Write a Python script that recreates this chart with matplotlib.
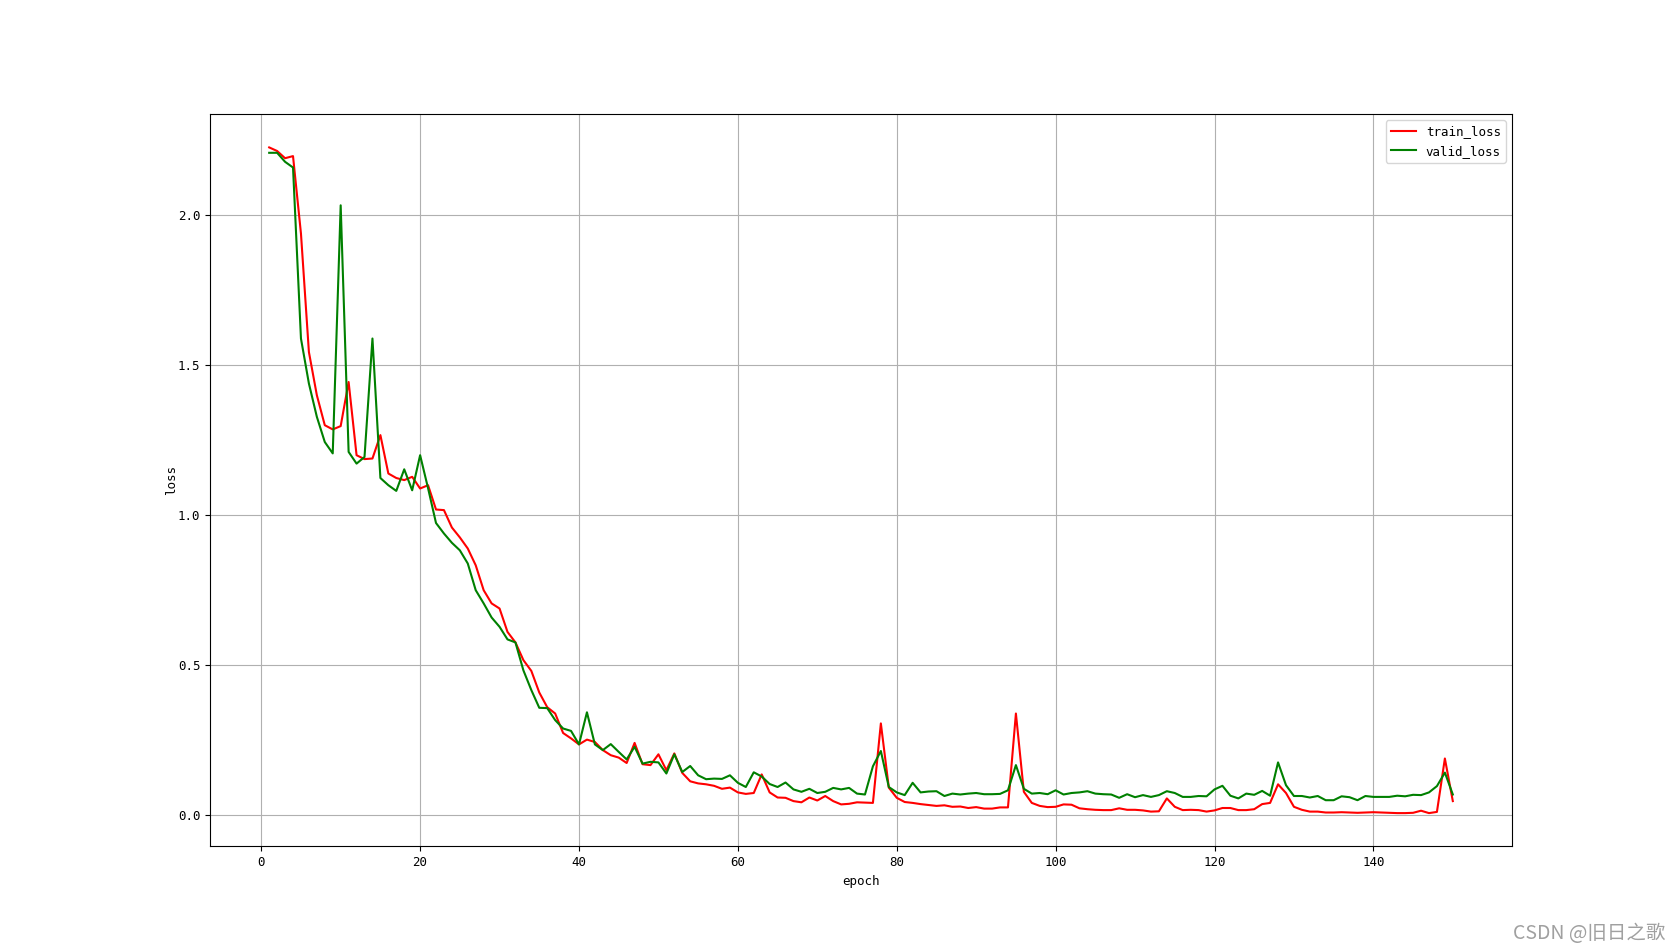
import matplotlib
matplotlib.use("Agg")
import matplotlib.pyplot as plt

epochs = list(range(1, 151))

train_loss = [
    2.226, 2.214, 2.19, 2.197, 1.939, 1.544, 1.40, 1.30, 1.286, 1.297,
    1.444, 1.20, 1.187, 1.189, 1.267, 1.139, 1.124, 1.117, 1.128, 1.089,
    1.10, 1.019, 1.017, 0.959, 0.926, 0.889, 0.833, 0.75, 0.706, 0.689,
    0.611, 0.576, 0.517, 0.481, 0.409, 0.36, 0.339, 0.274, 0.256, 0.236,
    0.252, 0.244, 0.217, 0.20, 0.192, 0.174, 0.241, 0.17, 0.167, 0.203,
    0.15, 0.206, 0.141, 0.113, 0.106, 0.103, 0.098, 0.088, 0.092, 0.076,
    0.071, 0.074, 0.136, 0.076, 0.059, 0.058, 0.047, 0.043, 0.059, 0.049,
    0.064, 0.047, 0.036, 0.038, 0.043, 0.042, 0.041, 0.306, 0.092, 0.058,
    0.044, 0.041, 0.037, 0.034, 0.031, 0.033, 0.028, 0.029, 0.024, 0.027,
    0.022, 0.022, 0.026, 0.026, 0.339, 0.078, 0.041, 0.031, 0.027, 0.028,
    0.036, 0.035, 0.023, 0.02, 0.018, 0.017, 0.017, 0.023, 0.018, 0.018,
    0.016, 0.012, 0.013, 0.056, 0.028, 0.017, 0.018, 0.017, 0.012, 0.016,
    0.024, 0.024, 0.017, 0.017, 0.02, 0.037, 0.041, 0.103, 0.074, 0.028,
    0.018, 0.012, 0.012, 0.009, 0.009, 0.01, 0.009, 0.008, 0.009, 0.01,
    0.009, 0.008, 0.007, 0.007, 0.008, 0.015, 0.007, 0.011, 0.189, 0.047,
]

valid_loss = [
    2.208, 2.208, 2.178, 2.159, 1.589, 1.439, 1.328, 1.244, 1.206, 2.033,
    1.211, 1.172, 1.194, 1.589, 1.124, 1.10, 1.081, 1.153, 1.083, 1.20,
    1.09, 0.974, 0.939, 0.908, 0.883, 0.839, 0.75, 0.706, 0.659, 0.628,
    0.586, 0.576, 0.483, 0.417, 0.358, 0.357, 0.317, 0.289, 0.281, 0.236,
    0.343, 0.236, 0.217, 0.237, 0.211, 0.186, 0.228, 0.172, 0.178, 0.176,
    0.139, 0.203, 0.144, 0.164, 0.133, 0.12, 0.122, 0.121, 0.133, 0.108,
    0.094, 0.143, 0.129, 0.104, 0.094, 0.109, 0.086, 0.078, 0.088, 0.074,
    0.078, 0.091, 0.086, 0.091, 0.072, 0.069, 0.163, 0.214, 0.094, 0.076,
    0.067, 0.108, 0.076, 0.079, 0.08, 0.064, 0.072, 0.069, 0.072, 0.074,
    0.07, 0.07, 0.071, 0.083, 0.167, 0.088, 0.072, 0.074, 0.07, 0.083,
    0.069, 0.074, 0.076, 0.08, 0.072, 0.07, 0.069, 0.058, 0.07, 0.06,
    0.067, 0.061, 0.067, 0.08, 0.074, 0.061, 0.061, 0.064, 0.063, 0.086,
    0.098, 0.065, 0.056, 0.072, 0.068, 0.081, 0.065, 0.176, 0.10, 0.064,
    0.064, 0.059, 0.064, 0.05, 0.05, 0.063, 0.06, 0.05, 0.064, 0.061,
    0.061, 0.061, 0.065, 0.063, 0.068, 0.067, 0.076, 0.097, 0.142, 0.069,
]

plt.rcParams['font.family'] = ['DejaVu Sans Mono', 'Noto Sans CJK SC']
plt.rcParams['font.size'] = 9

fig = plt.figure(figsize=(16.8, 9.51), dpi=100)
ax = fig.add_subplot(111)
ax.plot(epochs, train_loss, color='red', label='train_loss')
ax.plot(epochs, valid_loss, color='green', label='valid_loss')
ax.set_xlabel('epoch')
ax.set_ylabel('loss', labelpad=0)
ax.grid(True)
ax.legend(loc='upper right')

fig.text(0.991, 0.018, 'CSDN @旧日之歌', ha='right', va='center',
         fontsize=14, color='#a0a0a0', family=['Noto Sans CJK SC', 'DejaVu Sans'])

fig.savefig('out.png', dpi=100)
